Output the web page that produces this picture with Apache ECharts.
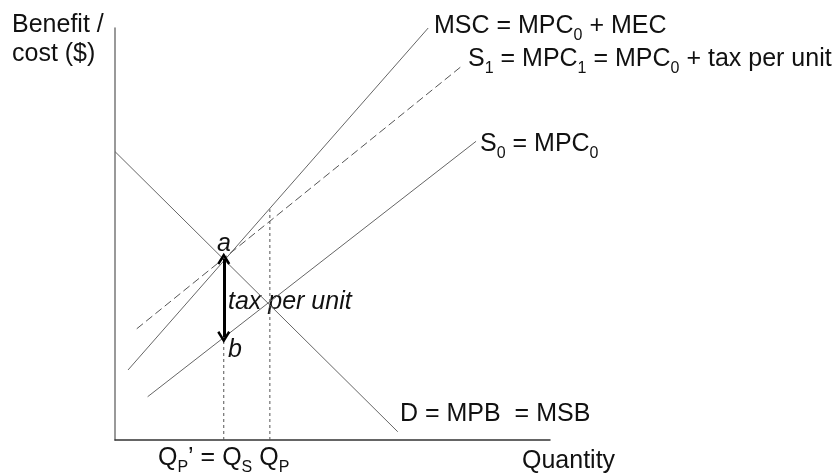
<!DOCTYPE html>
<html>
<head>
<meta charset="utf-8">
<script src="https://cdn.jsdelivr.net/npm/echarts@6/dist/echarts.min.js"></script>
<style>html,body{margin:0;padding:0;background:#fff}#c{width:838px;height:474px}</style>
</head>
<body>
<div id="c"></div>
<script>
// ---- data (abstract units: quantity 0..100, benefit/cost 0..100) ----
const demandLine = [[0, 70], [65, 2]];          // D = MPB = MSB
const mscLine    = [[3, 17], [72, 100]];        // MSC = MPC0 + MEC
const s1Line     = [[5, 27], [80, 91]];         // S1 = MPC1 = MPC0 + tax per unit
const s0Line     = [[7.5, 10.5], [83, 72.5]];   // S0 = MPC0
const qsGuide    = [[25, 0], [25, 44]];         // Qp' = Qs
const qpGuide    = [[35.6, 0], [35.6, 56]];     // Qp
const taxArrow   = [[25, 44], [25, 25]];        // a -> b
const axisRange  = [0, 100];

const FONT = '"Liberation Sans", Arial, sans-serif';
const chevron = 'path://M5,0 L10,8 L8.4,9.2 L5,3.6 L1.6,9.2 L0,8 Z';

const rich = {
  m: {fontSize: 25, fontFamily: FONT, color: '#111', lineHeight: 30, verticalAlign: 'top'},
  s: {fontSize: 16, fontFamily: FONT, color: '#111', lineHeight: 12, verticalAlign: 'bottom'}
};
function lbl(x, y, text, extra) {
  return {
    type: 'text', x: x, y: y, silent: true,
    style: Object.assign({text: text, rich: rich, fill: '#111', font: '25px ' + FONT,
      align: 'left', verticalAlign: 'middle'}, extra || {})
  };
}

function lineSeries(name, data, color, type, width) {
  return {
    name: name, type: 'line', data: data, showSymbol: false, silent: true, clip: false,
    lineStyle: {color: color, width: width || 1, type: type || 'solid'}
  };
}

const chart = echarts.init(document.getElementById('c'), null, {renderer: 'canvas'});
chart.setOption({
  animation: false,
  backgroundColor: '#fff',
  grid: {left: 115, top: 28, right: 288, bottom: 34, containLabel: false},
  xAxis: {
    type: 'value', min: axisRange[0], max: axisRange[1],
    axisLine: {show: true, onZero: false, lineStyle: {color: '#333', width: 1.5}},
    axisTick: {show: false}, axisLabel: {show: false}, splitLine: {show: false}
  },
  yAxis: {
    type: 'value', min: axisRange[0], max: axisRange[1],
    axisLine: {show: true, onZero: false, lineStyle: {color: '#777', width: 1.5}},
    axisTick: {show: false}, axisLabel: {show: false}, splitLine: {show: false}
  },
  series: [
    lineSeries('D', demandLine, '#666'),
    lineSeries('MSC', mscLine, '#666'),
    lineSeries('S1', s1Line, '#555', [8, 4]),
    lineSeries('S0', s0Line, '#666'),
    lineSeries('Qs', qsGuide, '#555', [3, 3]),
    lineSeries('Qp', qpGuide, '#555', [3, 3]),
    {
      name: 'tax', type: 'line', data: [], silent: true,
      markLine: {
        silent: true, animation: false,
        symbol: [chevron, chevron], symbolSize: [13, 12],
        label: {show: false},
        lineStyle: {color: '#000', width: 3, type: 'solid'},
        data: [[{coord: taxArrow[0]}, {coord: taxArrow[1]}]]
      }
    }
  ],
  graphic: [
    lbl(434, 29, '{m|MSC = MPC}{s|0}{m| + MEC}'),
    lbl(468, 62, '{m|S}{s|1}{m| = MPC}{s|1}{m| = MPC}{s|0}{m| + tax per unit}'),
    lbl(480, 146.5, '{m|S}{s|0}{m| = MPC}{s|0}'),
    lbl(400, 416.5, '{m|D = MPB  = MSB}'),
    lbl(522, 463.5, '{m|Quantity}'),
    lbl(158, 461, '{m|Q}{s|P}{m|\u2019 = Q}{s|S}{m| Q}{s|P}'),
    {type: 'text', x: 217, y: 244, silent: true,
     style: {text: 'a', font: 'italic 25px ' + FONT, fill: '#111', verticalAlign: 'middle'}},
    {type: 'text', x: 228, y: 350, silent: true,
     style: {text: 'b', font: 'italic 25px ' + FONT, fill: '#111', verticalAlign: 'middle'}},
    {type: 'text', x: 228, y: 302, silent: true,
     style: {text: 'tax per unit', font: 'italic 25px ' + FONT, fill: '#111', verticalAlign: 'middle'}},
    {type: 'text', x: 12, y: 11, silent: true,
     style: {text: 'Benefit /\ncost ($)', font: '25px ' + FONT, fill: '#111', lineHeight: 29,
       verticalAlign: 'top', align: 'left'}}
  ]
});
</script>
</body>
</html>
